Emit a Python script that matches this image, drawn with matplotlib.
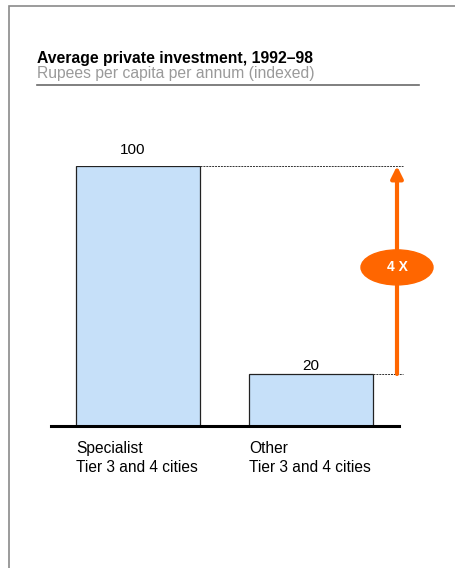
import matplotlib
matplotlib.use('Agg')
import matplotlib.pyplot as plt
from matplotlib.patches import Ellipse, Rectangle
from matplotlib.transforms import blended_transform_factory

plt.rcParams['font.family'] = ['Liberation Sans', 'DejaVu Sans']

categories = ['Specialist', 'Other']
category_sub = ['Tier 3 and 4 cities', 'Tier 3 and 4 cities']
values = [100, 20]
title = 'Average private investment, 1992\u201398'
subtitle = 'Rupees per capita per annum (indexed)'
ratio_label = '4 X'

W, H = 456, 568
fig = plt.figure(figsize=(W / 100, H / 100), dpi=100)
fig.patch.set_facecolor('white')

def fx(px):
    return px / W

def fy(py):
    return 1 - py / H

# outer frame (top and left edges visible)
fig.patches.append(Rectangle((fx(9), fy(H + 10)), 1.2, fy(6) - fy(H + 10),
                             transform=fig.transFigure, fill=False,
                             edgecolor='#8a8a8a', lw=1.2))

fig.text(fx(37), fy(63), title, fontsize=11.3, fontweight='bold', color='black', va='baseline')
fig.text(fx(37), fy(78), subtitle, fontsize=11.3, color='#9a9a9a', va='baseline')
fig.add_artist(plt.Line2D([fx(37), fx(419)], [fy(85), fy(85)],
                          transform=fig.transFigure, color='#6a6a6a', lw=1.2))

# bar axes: bottom at baseline, top at value 100
ax = fig.add_axes([fx(51), fy(426), fx(399) - fx(51), fy(166) - fy(426)])
ax.set_xlim(-87 / 173, 1 + 88 / 173)
ax.set_ylim(0, 100)
x = [0, 1]
ax.bar(x, values, width=124 / 173, color='#c6e0f9', edgecolor='#222222', lw=0.9, zorder=2)

# value labels sit a little unevenly above the bars in the original
label_offsets = [(-4, 8.6), (0, 3.2)]
for xi, v, off in zip(x, values, label_offsets):
    ax.annotate(str(v), (xi, v), xytext=off, textcoords='offset points',
                ha='center', va='baseline', fontsize=11, annotation_clip=False)

for sp in ['top', 'right', 'left']:
    ax.spines[sp].set_visible(False)
ax.spines['bottom'].set_linewidth(2.2)
ax.spines['bottom'].set_zorder(3)
ax.set_xticks([])
ax.set_yticks([])
ax.patch.set_alpha(0)

half = 124 / 173 / 2
trans = blended_transform_factory(ax.transData, fig.transFigure)
for xi in x:
    ax.text(xi - half, fy(453), categories[xi], ha='left', va='baseline', fontsize=11.2,
            transform=trans, clip_on=False)
    ax.text(xi - half, fy(472), category_sub[xi], ha='left', va='baseline', fontsize=11.2,
            transform=trans, clip_on=False)

xr = 1 + 92 / 173
for xi, v in zip(x, values):
    ax.plot([xi + half, xr], [v, v], ls=(0, (2, 1)), color='#333333', lw=0.7, clip_on=False)

xa = 1 + 86 / 173
ax.annotate('', xy=(xa, values[0]), xytext=(xa, values[1]),
            arrowprops=dict(arrowstyle='-|>,head_width=0.35,head_length=0.7',
                            color='#ff6600', lw=3, shrinkA=0, shrinkB=0),
            annotation_clip=False)
ymid = (values[0] + values[1]) / 2 + 1
ell = Ellipse((xa, ymid), 72 / 173, 35 / 260 * 100, color='#ff6600', clip_on=False, zorder=4)
ax.add_patch(ell)
ax.text(xa, ymid, ratio_label, ha='center', va='center', color='white',
        fontsize=10, fontweight='bold', zorder=5)

fig.savefig('out.png', dpi=100)
